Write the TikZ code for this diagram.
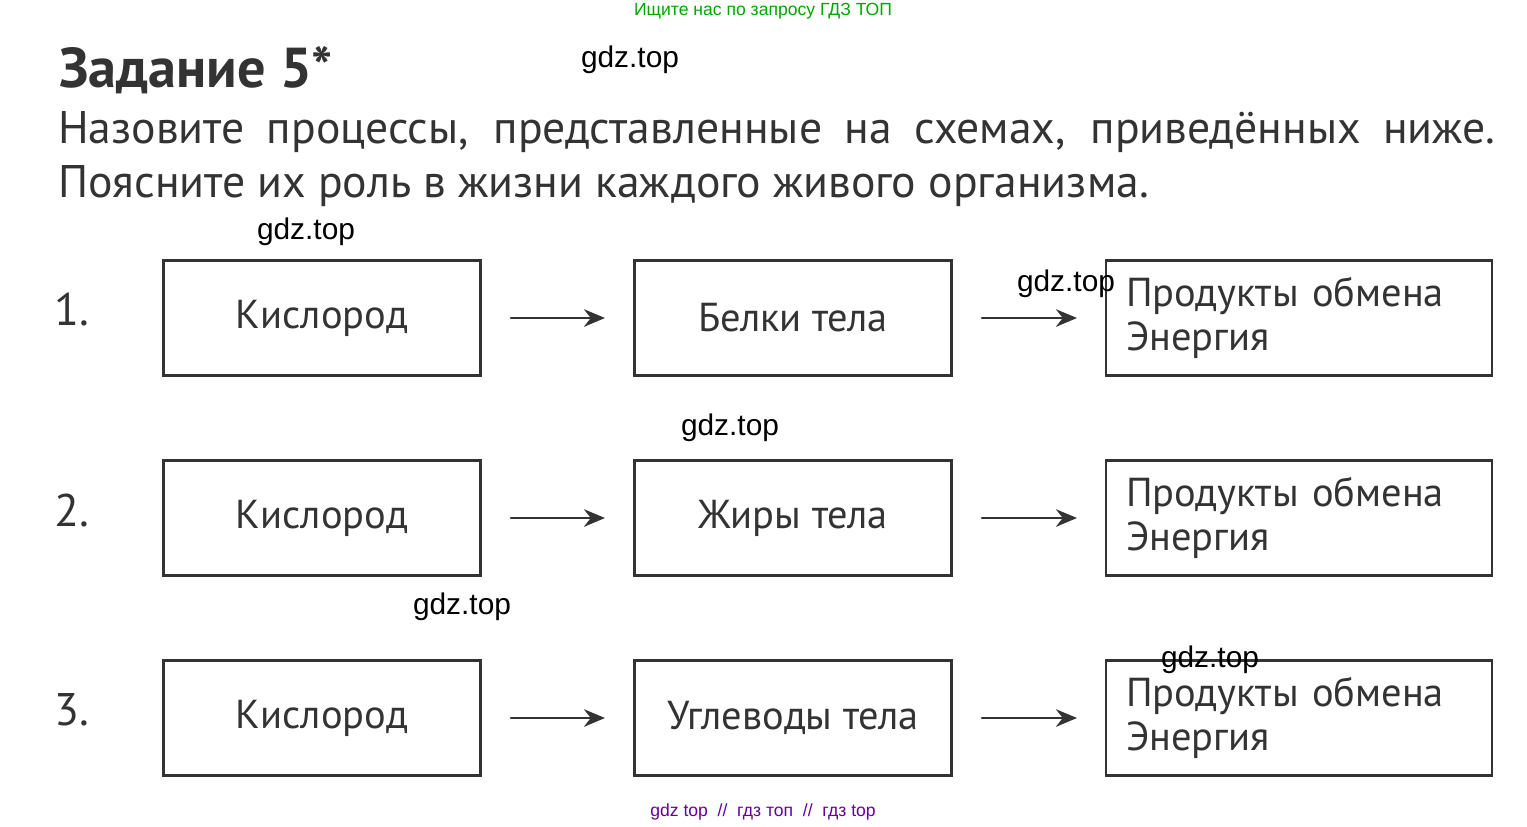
\documentclass[tikz,border=0pt]{standalone}
\usepackage{fontspec}
\usetikzlibrary{arrows.meta}
\setmainfont{PT Sans}
\newfontfamily\wmfont{Liberation Sans}
\begin{document}
\begin{tikzpicture}[x=0.02cm,y=-0.02cm,line cap=round]
  % styles
  \tikzset{
    box/.style={draw=black!80,line width=1.4pt,minimum width=317*0.02cm,minimum height=115*0.02cm,inner sep=0pt},
    wide/.style={box,minimum width=386*0.02cm},
    boxtext/.style={font=\fontsize{23}{27}\selectfont,text=black!80},
    link/.style={draw=black!80,line width=1.3pt,-{Stealth[length=12pt,width=10pt]}},
    wmark/.style={font=\wmfont\fontsize{17}{20}\selectfont,text=black},
  }
  \useasboundingbox (0,0) rectangle (1527,826);

  % header
  \node[font=\wmfont\fontsize{10}{12}\selectfont,text=green!65!black] (top) at (763,11) {Ищите нас по запросу ГДЗ ТОП};
  \node[anchor=west,font=\fontsize{32}{36}\selectfont\bfseries,text=black!80] (title) at (53,70) {Задание 5*};
  \node[anchor=west,font=\fontsize{26}{30}\selectfont,text=black!80] (line1) at (52,132)
    {\makebox[28.75cm][s]{Назовите процессы, представленные на схемах, приведённых ниже.}};
  \node[anchor=west,font=\fontsize{26}{30}\selectfont,text=black!80] (line2) at (52,186)
    {Поясните их роль в жизни каждого живого организма.};

  % rows
  \foreach \n/\y/\mtext in {1/318/{Белки тела},2/518/{Жиры тела},3/718/{Углеводы тела}} {
    \node[font=\fontsize{26}{30}\selectfont,text=black!80] (num\n) at (72,\y-8) {\n.};
    \node[box,boxtext] (src\n) at (322,\y) {Кислород};
    \node[box,boxtext] (mid\n) at (793,\y) {\mtext};
    \node[wide,boxtext,align=left,text width=346*0.02cm] (dst\n) at (1299,\y)
      {Продукты обмена\\[-2pt]Энергия};
    \coordinate (a\n) at (511,\y);
    \coordinate (b\n) at (605,\y);
    \coordinate (c\n) at (982,\y);
    \coordinate (d\n) at (1077,\y);
    \draw[link] (a\n) -- (b\n);
    \draw[link] (c\n) -- (d\n);
  }

  % watermarks
  \node[wmark] (w1) at (630,60) {gdz.top};
  \node[wmark] (w2) at (306,232) {gdz.top};
  \node[wmark] (w3) at (1066,284) {gdz.top};
  \node[wmark] (w4) at (730,428) {gdz.top};
  \node[wmark] (w5) at (462,607) {gdz.top};
  \node[wmark] (w6) at (1210,660) {gdz.top};
  \node[font=\wmfont\fontsize{10}{12}\selectfont,text=violet!80!blue] (bottom) at (763,812)
    {gdz top \ // \ гдз топ \ // \ гдз top};
\end{tikzpicture}
\end{document}
